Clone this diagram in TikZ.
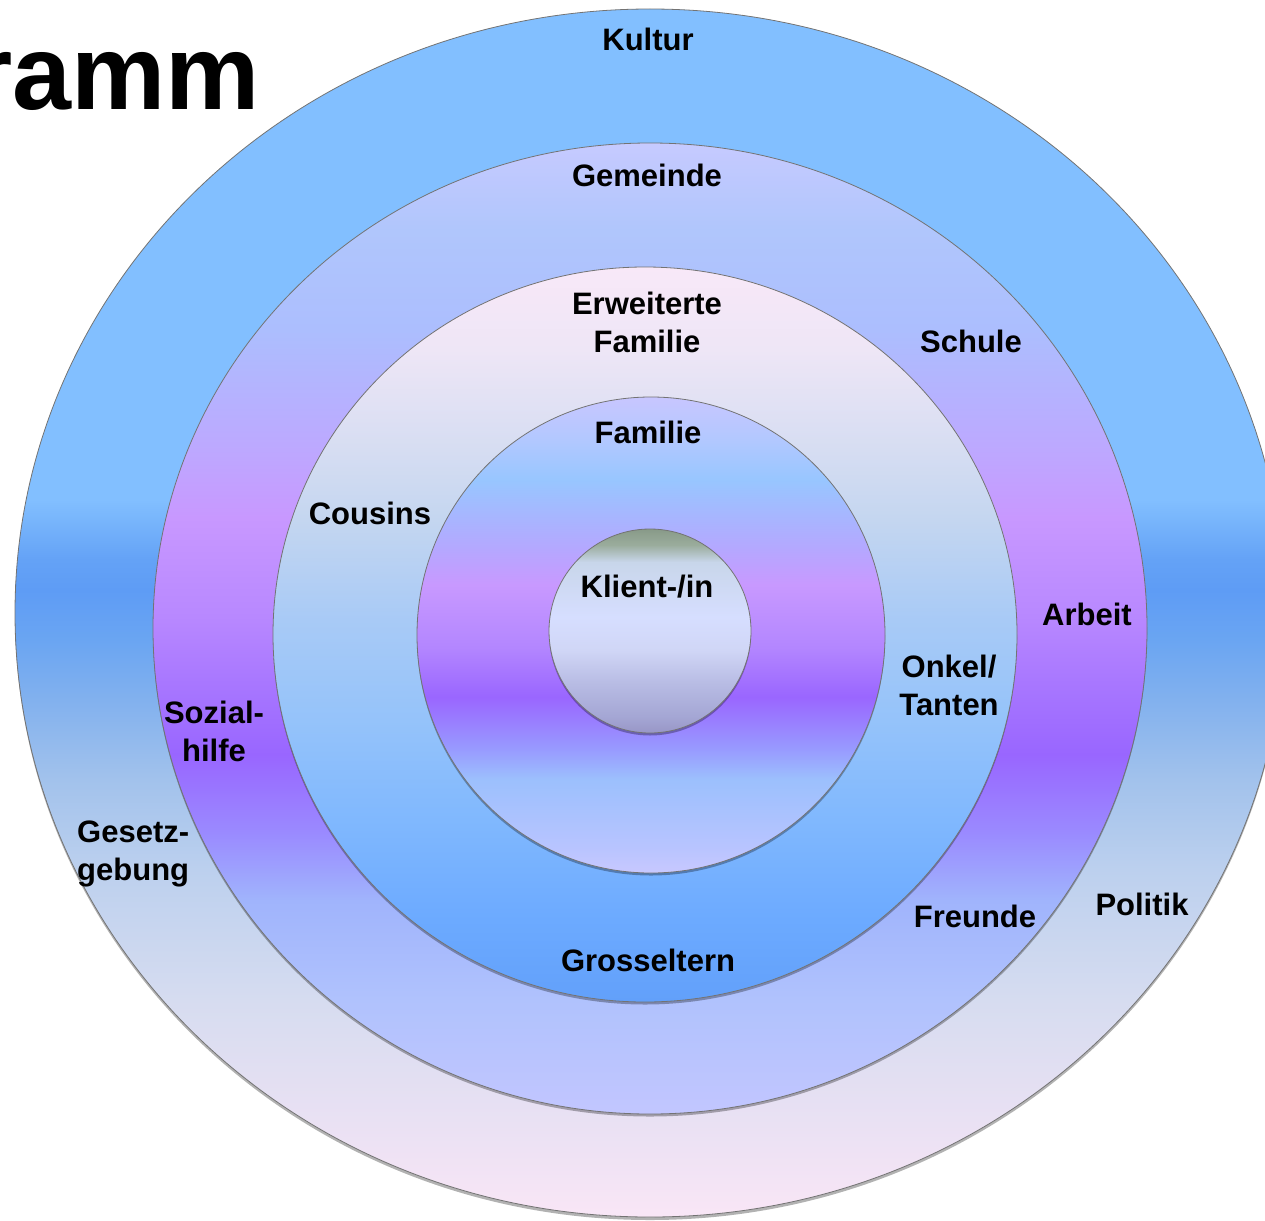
\documentclass[tikz,border=0pt]{standalone}
\usepackage{fontspec}
\setmainfont{Liberation Sans}

% ring colours, bottom to top
\definecolor{ku1}{HTML}{F9E6F6}
\definecolor{ku2}{HTML}{EEE2F4}
\definecolor{ku3}{HTML}{D6DCF0}
\definecolor{ku4}{HTML}{BCD0EE}
\definecolor{ku5}{HTML}{A2C2EC}
\definecolor{ku6}{HTML}{82B1EE}
\definecolor{ku7}{HTML}{6AA5F2}
\definecolor{ku8}{HTML}{5E9CF5}
\definecolor{ku9}{HTML}{64A2F6}
\definecolor{ku10}{HTML}{82BFFF}

\definecolor{ge1}{HTML}{C2C6FF}
\definecolor{ge2}{HTML}{B0C2FD}
\definecolor{ge3}{HTML}{A0B4FC}
\definecolor{ge4}{HTML}{9A8AFF}
\definecolor{ge5}{HTML}{9966FF}
\definecolor{ge6}{HTML}{A877FF}
\definecolor{ge7}{HTML}{B888FF}
\definecolor{ge8}{HTML}{C898FF}
\definecolor{ge9}{HTML}{BDA8FF}
\definecolor{ge10}{HTML}{ACBEFE}
\definecolor{ge11}{HTML}{B0C6FC}
\definecolor{ge12}{HTML}{C6CAFF}

\definecolor{ef1}{HTML}{62A0FA}
\definecolor{ef2}{HTML}{6CAAFF}
\definecolor{ef3}{HTML}{80B8FE}
\definecolor{ef4}{HTML}{95C3FA}
\definecolor{ef5}{HTML}{A8CAF6}
\definecolor{ef6}{HTML}{C4D6F0}
\definecolor{ef7}{HTML}{D6DDF2}
\definecolor{ef8}{HTML}{EEE6F6}
\definecolor{ef9}{HTML}{F8E8F8}

\definecolor{fa1}{HTML}{C8C8FF}
\definecolor{fa2}{HTML}{B8C4FF}
\definecolor{fa3}{HTML}{9CC0FD}
\definecolor{fa4}{HTML}{9898FF}
\definecolor{fa5}{HTML}{9A66FF}
\definecolor{fa6}{HTML}{B386FF}
\definecolor{fa7}{HTML}{C899FF}
\definecolor{fa8}{HTML}{B4A8FF}
\definecolor{fa9}{HTML}{98C6FF}
\definecolor{fa10}{HTML}{B2C8FF}
\definecolor{fa11}{HTML}{C8C6FF}

\definecolor{kl1}{HTML}{9896C6}
\definecolor{kl2}{HTML}{A4A6D4}
\definecolor{kl3}{HTML}{B8BCE4}
\definecolor{kl4}{HTML}{D0D6F6}
\definecolor{kl5}{HTML}{D6DEFF}
\definecolor{kl6}{HTML}{C8D6EA}
\definecolor{kl7}{HTML}{9AAC9C}
\definecolor{kl8}{HTML}{889A88}

\pgfdeclareverticalshading{kultur}{100bp}{color(0bp)=(ku1); color(25bp)=(ku1);
    color(27.8bp)=(ku2); color(34bp)=(ku3); color(39.4bp)=(ku4); color(43.1bp)=(ku5);
    color(46.4bp)=(ku6); color(48.9bp)=(ku7); color(50.95bp)=(ku8); color(52.2bp)=(ku9);
    color(54.7bp)=(ku10); color(100bp)=(ku10)}
\pgfdeclareverticalshading{gemeinde}{100bp}{color(0bp)=(ge1); color(25bp)=(ge1);
    color(30.9bp)=(ge2); color(36bp)=(ge3); color(39.5bp)=(ge4); color(43.5bp)=(ge5);
    color(47.2bp)=(ge6); color(50.6bp)=(ge7); color(55.7bp)=(ge8); color(59.2bp)=(ge9);
    color(65.4bp)=(ge10); color(70.5bp)=(ge11); color(75bp)=(ge12); color(100bp)=(ge12)}
\pgfdeclareverticalshading{erwfam}{100bp}{color(0bp)=(ef1); color(25bp)=(ef1);
    color(30.6bp)=(ef2); color(37.4bp)=(ef3); color(44.2bp)=(ef4); color(51bp)=(ef5);
    color(57.8bp)=(ef6); color(62.6bp)=(ef7); color(69.4bp)=(ef8); color(75bp)=(ef9);
    color(100bp)=(ef9)}
\pgfdeclareverticalshading{familie}{100bp}{color(0bp)=(fa1); color(25bp)=(fa1);
    color(27.7bp)=(fa2); color(34.8bp)=(fa3); color(38.2bp)=(fa4); color(43.5bp)=(fa5);
    color(48.7bp)=(fa6); color(55.3bp)=(fa7); color(59.2bp)=(fa8); color(66.3bp)=(fa9);
    color(70.5bp)=(fa10); color(75bp)=(fa11); color(100bp)=(fa11)}
\pgfdeclareverticalshading{klient}{100bp}{color(0bp)=(kl1); color(25bp)=(kl1);
    color(28.9bp)=(kl2); color(37.3bp)=(kl3); color(45.3bp)=(kl4); color(53.4bp)=(kl5);
    color(66.9bp)=(kl6); color(71.1bp)=(kl7); color(75bp)=(kl8); color(100bp)=(kl8)}

\begin{document}
\begin{tikzpicture}[x=1pt, y=-1pt,
    ring/.style={draw=black!55, line width=0.8pt},
    ringshadow/.style={fill=black, opacity=.3},
    lbl/.style={font=\bfseries\fontsize{31}{38}\selectfont, align=center,
        text=black, inner sep=0pt},
    title/.style={font=\bfseries\fontsize{106}{106}\selectfont, inner sep=0pt,
        anchor=base east, text=black}
]
\useasboundingbox (0,0) rectangle (1265,1220);
\clip (0,0) rectangle (1265,1220);

% heading, cut off at the left
\node (head) [title] at (260,110) {ramm};

% rings, outside in
\fill[ringshadow] (650,616) ellipse [x radius=635, y radius=604];
\path[ring, shading=kultur] (650,613) ellipse [x radius=635, y radius=604];
\fill[ringshadow] (650,631) ellipse [x radius=497, y radius=485.5];
\path[ring, shading=gemeinde] (650,628.5) ellipse [x radius=497, y radius=485.5];
\fill[ringshadow] (645,637) ellipse [x radius=372, y radius=367.5];
\path[ring, shading=erwfam] (645,634.5) ellipse [x radius=372, y radius=367.5];
\fill[ringshadow] (651,637.5) ellipse [x radius=234, y radius=238];
\path[ring, shading=familie] (651,635) ellipse [x radius=234, y radius=238];
\fill[ringshadow] (650,633.5) ellipse [x radius=101, y radius=102];
\path[ring, shading=klient] (650,631) ellipse [x radius=101, y radius=102];

% labels
\node (kultur) [lbl] at (648,39) {Kultur};
\node (gemeinde) [lbl] at (647,175) {Gemeinde};
\node (erwfam) [lbl] at (647,322) {Erweiterte\\Familie};
\node (schule) [lbl] at (971,341) {Schule};
\node (familie) [lbl] at (648,432) {Familie};
\node (cousins) [lbl] at (370,513) {Cousins};
\node (klient) [lbl] at (647,587) {Klient-/in};
\node (arbeit) [lbl] at (1087,614) {Arbeit};
\node (onkel) [lbl] at (949,685) {Onkel/\\Tanten};
\node (sozial) [lbl] at (214,731) {Sozial-\\hilfe};
\node (gesetz) [lbl, align=left, anchor=west] at (77,854) {Gesetz-\\gebung};
\node (freunde) [lbl] at (975,916) {Freunde};
\node (politik) [lbl] at (1142,904) {Politik};
\node (gross) [lbl] at (648,960) {Grosseltern};
\end{tikzpicture}
\end{document}
